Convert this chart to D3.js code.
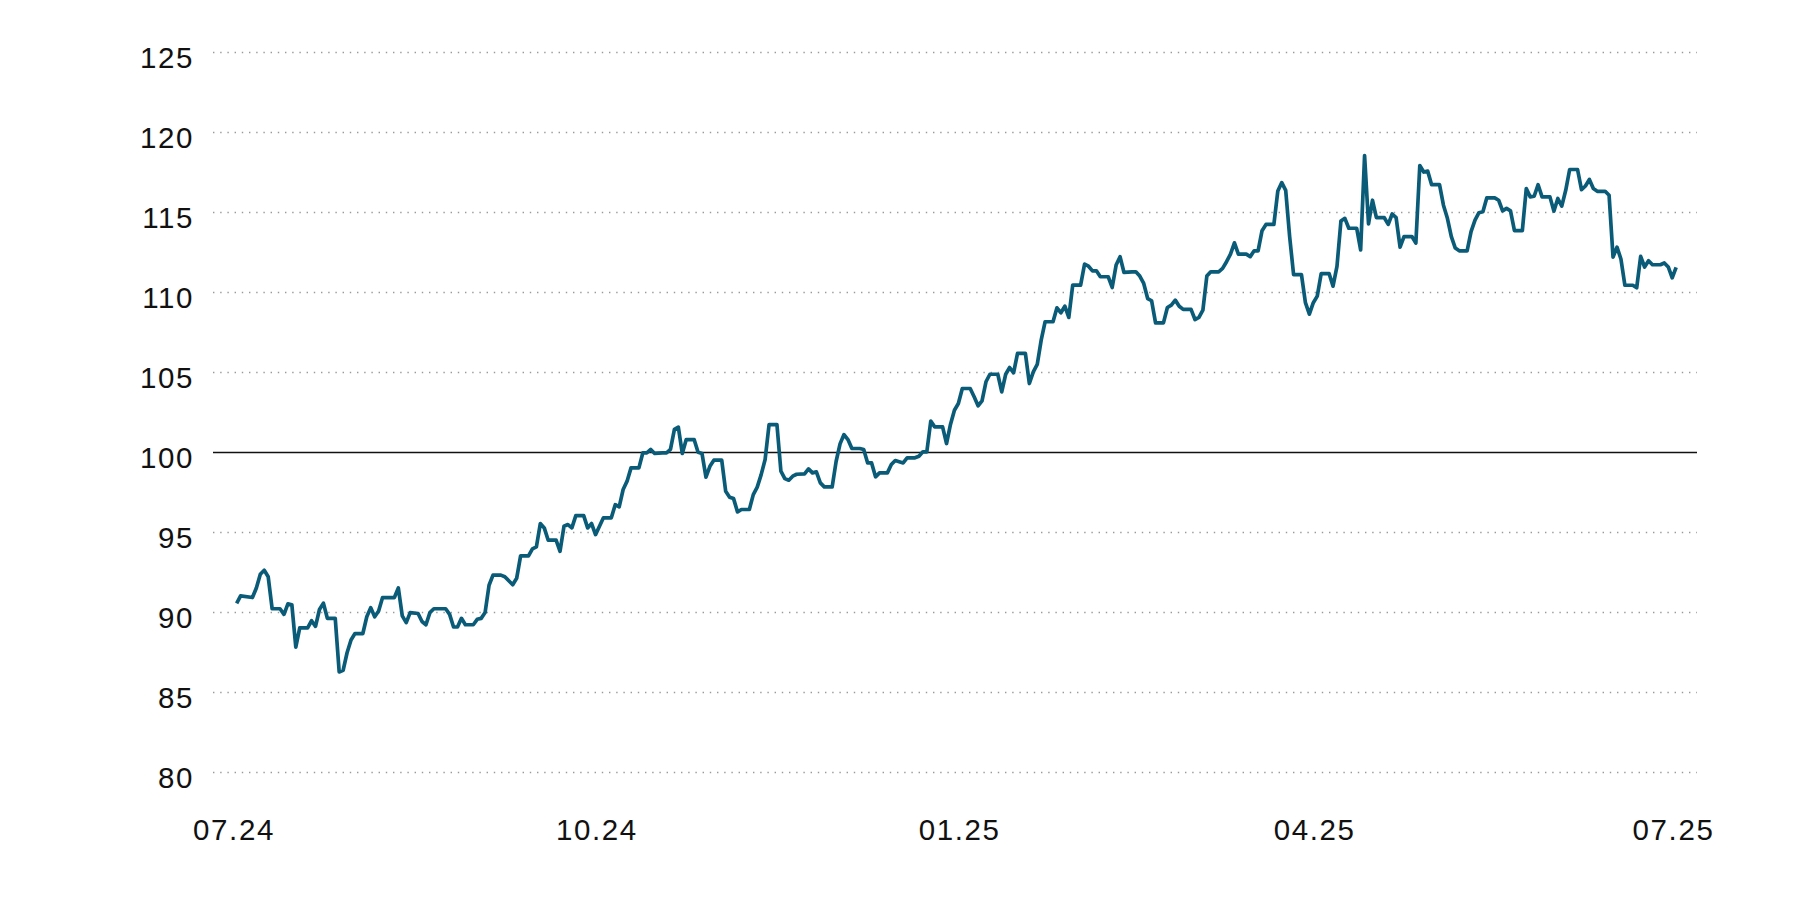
<!DOCTYPE html>
<html>
<head>
<meta charset="utf-8">
<script src="https://cdn.jsdelivr.net/npm/d3@7"></script>
<style>
  html, body { margin: 0; padding: 0; background: #fff; }
  svg { display: block; }
  .tick text { font-family: "Liberation Sans", Arial, sans-serif; font-size: 29.5px; letter-spacing: 1.6px; fill: #111; }
</style>
</head>
<body>
<div id="chart"></div>
<script>
const startDate = new Date(2024, 6, 1);

// day offsets from 01.07.2024
const dayOffsets = [
  1, 2, 5, 6, 7, 8, 9, 10, 12, 13, 14, 15,
  16, 17, 19, 20, 21, 22, 23, 24, 26, 27, 28, 29,
  30, 31, 33, 34, 35, 36, 37, 38, 41, 42, 43, 44,
  45, 47, 48, 49, 50, 51, 54, 55, 56, 57, 58, 59,
  61, 62, 63, 64, 65, 66, 68, 69, 70, 71, 72, 73,
  75, 76, 77, 78, 79, 80, 82, 83, 84, 85, 86, 87,
  89, 90, 91, 92, 93, 94, 96, 97, 98, 99, 100, 101,
  103, 104, 105, 106, 107, 109, 110, 111, 112, 113, 114, 115,
  117, 118, 119, 120, 121, 122, 124, 125, 126, 127, 128, 129,
  131, 132, 133, 134, 135, 136, 138, 139, 140, 141, 142, 143,
  145, 146, 147, 148, 149, 150, 152, 153, 154, 155, 156, 157,
  159, 160, 161, 162, 163, 164, 166, 167, 168, 170, 171, 173,
  174, 175, 176, 177, 178, 180, 181, 182, 183, 184, 185, 187,
  188, 189, 190, 191, 192, 194, 195, 196, 197, 198, 199, 201,
  202, 203, 204, 205, 206, 208, 209, 210, 211, 212, 213, 215,
  216, 217, 218, 219, 220, 222, 223, 224, 225, 226, 228, 229,
  230, 231, 232, 233, 234, 236, 237, 238, 239, 240, 241, 243,
  244, 245, 246, 247, 248, 250, 251, 252, 253, 254, 255, 257,
  258, 259, 260, 261, 262, 264, 265, 266, 267, 268, 269, 271,
  272, 273, 274, 275, 276, 278, 279, 280, 281, 282, 283, 285,
  286, 287, 288, 289, 290, 292, 293, 294, 295, 296, 297, 299,
  300, 301, 302, 303, 304, 306, 307, 308, 309, 310, 311, 313,
  314, 315, 316, 317, 318, 320, 321, 322, 323, 324, 325, 327,
  328, 329, 330, 331, 332, 334, 335, 336, 337, 338, 339, 341,
  342, 343, 344, 345, 346, 348, 349, 350, 351, 352, 353, 355,
  356, 357, 358, 359, 360, 362, 363, 364, 365, 366,
];

const values = [
  90.54, 91.0, 90.9, 91.5, 92.35, 92.6, 92.2, 90.2, 90.2, 89.85, 90.5, 90.45,
  87.8, 89.0, 89.0, 89.45, 89.1, 90.15, 90.55, 89.6, 89.6, 86.25, 86.35, 87.45,
  88.25, 88.65, 88.65, 89.7, 90.27, 89.7, 90.06, 90.9, 90.9, 91.5, 89.75, 89.33,
  89.96, 89.9, 89.4, 89.2, 89.96, 90.2, 90.2, 89.85, 89.06, 89.06, 89.6, 89.2,
  89.2, 89.54, 89.6, 89.96, 91.67, 92.3, 92.3, 92.2, 91.95, 91.7, 92.1, 93.5,
  93.5, 93.94, 94.06, 95.52, 95.25, 94.48, 94.48, 93.79, 95.35, 95.46, 95.25, 96.02,
  96.02, 95.25, 95.52, 94.83, 95.35, 95.88, 95.88, 96.7, 96.56, 97.65, 98.17, 99.0,
  99.0, 99.94, 99.94, 100.15, 99.9, 99.94, 99.94, 100.15, 101.4, 101.54, 99.9, 100.77,
  100.77, 99.98, 99.9, 98.42, 99.1, 99.48, 99.48, 97.54, 97.17, 97.08, 96.25, 96.4,
  96.4, 97.33, 97.8, 98.58, 99.52, 101.7, 101.7, 98.8, 98.33, 98.23, 98.48, 98.6,
  98.63, 98.94, 98.69, 98.75, 98.06, 97.81, 97.81, 99.4, 100.5, 101.08, 100.77, 100.21,
  100.21, 100.15, 99.31, 99.31, 98.44, 98.69, 98.69, 99.21, 99.46, 99.31, 99.63, 99.63,
  99.73, 100.0, 100.0, 101.92, 101.56, 101.56, 100.52, 101.71, 102.6, 103.02, 103.96, 103.96,
  103.44, 102.88, 103.19, 104.38, 104.85, 104.85, 103.75, 104.85, 105.27, 104.94, 106.15, 106.15,
  104.27, 105.0, 105.46, 106.98, 108.13, 108.13, 109.0, 108.69, 109.1, 108.4, 110.42, 110.42,
  111.73, 111.6, 111.31, 111.31, 110.94, 110.94, 110.27, 111.67, 112.19, 111.21, 111.25, 111.25,
  110.98, 110.52, 109.58, 109.44, 108.06, 108.06, 109.02, 109.17, 109.48, 109.1, 108.9, 108.9,
  108.27, 108.4, 108.85, 110.98, 111.25, 111.25, 111.46, 111.88, 112.35, 113.06, 112.35, 112.35,
  112.2, 112.56, 112.56, 113.82, 114.21, 114.21, 116.3, 116.82, 116.34, 113.45, 111.07, 111.07,
  109.32, 108.6, 109.32, 109.73, 111.14, 111.14, 110.35, 111.59, 114.42, 114.59, 113.97, 113.97,
  112.62, 118.51, 114.24, 115.72, 114.63, 114.63, 114.21, 114.86, 114.63, 112.79, 113.45, 113.45,
  113.04, 117.89, 117.48, 117.54, 116.69, 116.69, 115.41, 114.59, 113.45, 112.73, 112.56, 112.56,
  113.76, 114.48, 114.94, 115.0, 115.87, 115.87, 115.72, 115.06, 115.21, 115.06, 113.82, 113.82,
  116.45, 115.93, 115.97, 116.69, 115.93, 115.93, 115.04, 115.83, 115.35, 116.34, 117.64, 117.64,
  116.38, 116.61, 117.02, 116.45, 116.28, 116.28, 116.03, 112.17, 112.79, 112.05, 110.41, 110.41,
  110.25, 112.21, 111.55, 111.94, 111.69, 111.69, 111.8, 111.55, 110.87, 111.53,
];

const yTicks = [80, 85, 90, 95, 100, 105, 110, 115, 120, 125];
const baseLevel = 100;
const xTicks = ["2024-07-01", "2024-10-01", "2025-01-01", "2025-04-01", "2025-07-01"];

const width = 1800;
const height = 900;
const gridLeft = 213;
const gridRight = 1697;

const data = dayOffsets.map((d, i) => ({
  date: d3.timeDay.offset(startDate, d),
  value: values[i],
}));

const parse = d3.timeParse("%Y-%m-%d");

const x = d3
  .scaleTime()
  .domain([parse(xTicks[0]), parse(xTicks[xTicks.length - 1])])
  .range([232.7, 1672.2]);

const y = d3.scaleLinear().domain([80, 125]).range([772, 51.7]);

const svg = d3
  .select("#chart")
  .append("svg")
  .attr("width", width)
  .attr("height", height);

// gridlines
svg
  .append("g")
  .selectAll("line")
  .data(yTicks)
  .join("line")
  .attr("x1", gridLeft)
  .attr("x2", gridRight)
  .attr("y1", (d) => Math.round(y(d)) + 0.5)
  .attr("y2", (d) => Math.round(y(d)) + 0.5)
  .attr("stroke", (d) => (d === baseLevel ? "#111" : "#9a9a9a"))
  .attr("stroke-width", (d) => (d === baseLevel ? 1.3 : 1.4))
  .attr("stroke-dasharray", (d) => (d === baseLevel ? null : "1.4,5.8"));

// y axis labels
const yAxis = svg
  .append("g")
  .attr("transform", `translate(${gridLeft},0)`)
  .call(d3.axisLeft(y).tickValues(yTicks).tickSize(0).tickPadding(19));
yAxis.select(".domain").remove();
yAxis.selectAll(".tick text").attr("dy", 15.3);

// x axis labels
const xAxis = svg
  .append("g")
  .attr("transform", `translate(0,${y(80)})`)
  .call(
    d3
      .axisBottom(x)
      .tickValues(xTicks.map(parse))
      .tickFormat(d3.timeFormat("%m.%y"))
      .tickSize(0),
  );
xAxis.select(".domain").remove();
xAxis.selectAll(".tick text").attr("y", 0).attr("dy", 68).attr("dx", 0.8);

// index line
svg
  .append("path")
  .datum(data)
  .attr("fill", "none")
  .attr("stroke", "#0a5b78")
  .attr("stroke-width", 3.7)
  .attr("stroke-linejoin", "round")
  .attr("d", d3.line().x((d) => x(d.date)).y((d) => y(d.value)));
</script>
</body>
</html>
